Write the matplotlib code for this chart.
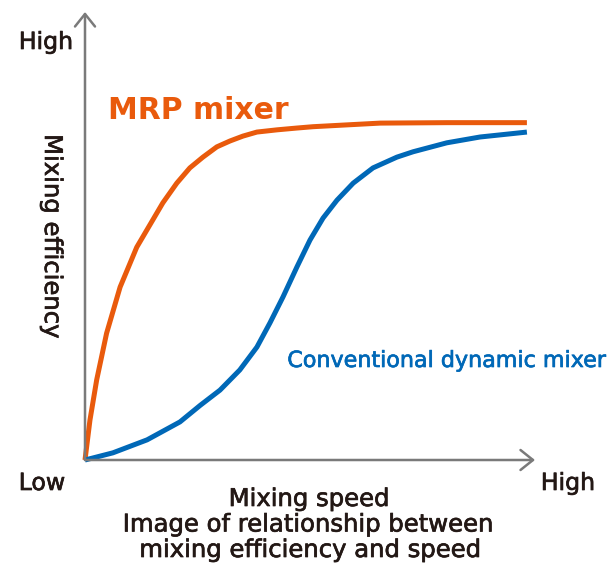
import matplotlib.pyplot as plt
import matplotlib.patheffects as pe

plt.rcParams['font.family'] = ['DejaVu Sans']

# speed (0-100) vs efficiency (0-100)
mrp_speed = [0, 1.1, 2.6, 4.8, 7.8, 11.5, 17.3, 20.4, 23.3, 26.2, 29.3, 32.2, 35.1, 38.2,
             42.7, 47.1, 50.7, 65.6, 80.4, 98.2]
mrp_eff = [0, 8.9, 17.9, 28.3, 38.6, 47.5, 57.4, 61.8, 65.2, 67.6, 69.9, 71.2, 72.3, 73.2,
           73.7, 74.1, 74.4, 75.2, 75.3, 75.3]

conv_speed = [0, 6.2, 13.8, 21.1, 25.6, 30.0, 34.4, 38.2, 41.1, 44.0, 47.1, 50.0, 52.9,
              56.0, 59.6, 64.0, 69.3, 72.9, 80.4, 87.8, 98.2]
conv_eff = [0, 1.6, 4.5, 8.5, 12.2, 15.6, 20.1, 25.2, 30.6, 36.4, 43.1, 49.1, 54.0,
            58.0, 61.8, 65.2, 67.6, 68.8, 70.8, 72.1, 73.2]

ORANGE = '#E95A0C'
BLUE = '#0068B7'
GREY = '#7A7A7A'
TXT = '#231815'

W, H = 613, 563


def fx(px):
    return px / W


def fy(py):
    return 1 - py / H


fig = plt.figure(figsize=(6.13, 5.63), dpi=100)
ax = fig.add_axes([fx(85), fy(460), 450 / W, 448 / H])
ax.set_xlim(0, 100)
ax.set_ylim(0, 100)
ax.axis('off')

# axes drawn as arrows
arrow = dict(arrowstyle='->,head_length=0.45,head_width=0.36', color=GREY, lw=1.8,
             mutation_scale=20, shrinkA=0, shrinkB=0)
ax.annotate('', xy=(1.0, 0), xytext=(0, 0), xycoords='axes fraction', arrowprops=arrow)
ax.annotate('', xy=(0, 1.0), xytext=(0, 0), xycoords='axes fraction', arrowprops=arrow)

ax.plot(mrp_speed, mrp_eff, color=ORANGE, lw=3.6, solid_capstyle='butt',
        solid_joinstyle='round', clip_on=False)
ax.plot(conv_speed, conv_eff, color=BLUE, lw=3.6, solid_capstyle='butt',
        solid_joinstyle='round', clip_on=False)

# slightly heavier text, the original font is a medium weight
dark = [pe.withStroke(linewidth=0.5, foreground=TXT)]
blue = [pe.withStroke(linewidth=0.5, foreground=BLUE)]

fs = 17
fig.text(fx(46), fy(49), 'High', fontsize=fs, color=TXT, ha='center', va='baseline', path_effects=dark)
fig.text(fx(42), fy(490), 'Low', fontsize=fs, color=TXT, ha='center', va='baseline', path_effects=dark)
fig.text(fx(568), fy(490), 'High', fontsize=fs, color=TXT, ha='center', va='baseline', path_effects=dark)
fig.text(fx(52), fy(236), 'Mixing efficiency', fontsize=17.5, color=TXT,
         ha='center', va='center', rotation=-90, path_effects=dark)
fig.text(fx(309), fy(506), 'Mixing speed', fontsize=17.5, color=TXT, ha='center', va='baseline',
         path_effects=dark)
fig.text(fx(308), fy(531.5), 'Image of relationship between', fontsize=17.5, color=TXT,
         ha='center', va='baseline', path_effects=dark)
fig.text(fx(310), fy(557), 'mixing efficiency and speed', fontsize=17.5, color=TXT,
         ha='center', va='baseline', path_effects=dark)

fig.text(fx(198), fy(119), 'MRP mixer', fontsize=21.5, fontweight='bold', color=ORANGE,
         ha='center', va='baseline')
fig.text(fx(447), fy(367), 'Conventional dynamic mixer', fontsize=16, color=BLUE,
         ha='center', va='baseline', path_effects=blue)

fig.savefig('out.png', dpi=100)
